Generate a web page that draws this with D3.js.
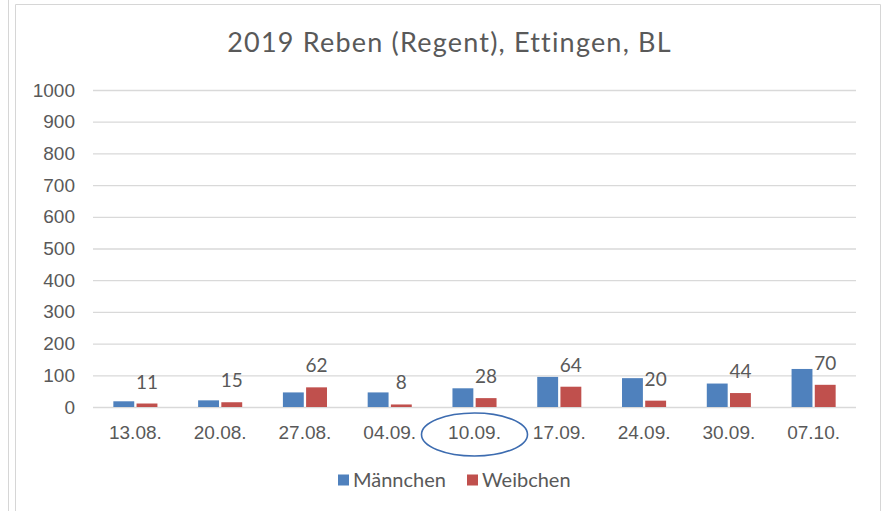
<!DOCTYPE html>
<html lang="de">
<head>
<meta charset="UTF-8">
<title>2019 Reben (Regent), Ettingen, BL</title>
<script src="https://d3js.org/d3.v7.min.js"></script>
<style>
  body { margin: 0; background: #fff; }
  svg { display: block; font-family: Lato, "Open Sans", sans-serif; }
  .lbl { fill: #595959; font-size: 19px; }
</style>
</head>
<body>
<script>
const width = 882;
const height = 511;

// data
const dates = ["13.08.", "20.08.", "27.08.", "04.09.", "10.09.", "17.09.", "24.09.", "30.09.", "07.10."];
const maennchen = [18, 21, 46, 46, 59, 95, 91, 74, 120];
const weibchen = [11, 15, 62, 8, 28, 64, 20, 44, 70];
const seriesNames = ["Männchen", "Weibchen"];
const seriesColors = ["#4f81bd", "#c0504d"];
const yTicks = [0, 100, 200, 300, 400, 500, 600, 700, 800, 900, 1000];
const marked = "10.09.";

const plot = {left: 93, right: 856, top: 90, bottom: 407};

const rows = dates.map((d, i) => ({date: d, values: [maennchen[i], weibchen[i]]}));

const svg = d3.select("body").append("svg")
    .attr("width", width)
    .attr("height", height);

// frame of the cropped screenshot
const frame = svg.append("g").attr("stroke", "#d6d6d6").attr("fill", "none");
frame.append("line").attr("x1", 8.5).attr("x2", 8.5).attr("y1", 0).attr("y2", height);
frame.append("path").attr("d", `M15.5,${height}V4.5H880.5V${height}`);

const x0 = d3.scaleBand()
    .domain(dates)
    .range([plot.left, plot.right])
    .paddingInner(0.48)
    .paddingOuter(0.24);

const x1 = d3.scaleBand()
    .domain(d3.range(seriesNames.length))
    .range([0, x0.bandwidth()])
    .paddingInner(0.1);

const y = d3.scaleLinear()
    .domain([0, 1000])
    .range([plot.bottom, plot.top]);

// title
svg.append("text")
    .attr("x", (plot.left + plot.right) / 2 - 25)
    .attr("y", 52)
    .attr("text-anchor", "middle")
    .attr("fill", "#595959")
    .style("font-size", "27px")
    .style("letter-spacing", "1.2px")
    .text("2019 Reben (Regent), Ettingen, BL");

// y axis with gridlines
const yAxis = d3.axisLeft(y)
    .tickValues(yTicks)
    .tickSize(-(plot.right - plot.left))
    .tickPadding(18)
    .tickFormat(d3.format("d"));

const gy = svg.append("g")
    .attr("transform", `translate(${plot.left},0)`)
    .call(yAxis);
gy.select(".domain").remove();
gy.selectAll(".tick line").attr("stroke", "#d9d9d9").attr("stroke-width", 1.3);
gy.selectAll(".tick text").attr("class", "lbl").attr("fill", "#595959");

// x axis labels
const xAxis = d3.axisBottom(x0).tickSize(0).tickPadding(19);
const gx = svg.append("g")
    .attr("transform", `translate(0,${plot.bottom})`)
    .call(xAxis);
gx.select(".domain").remove();
gx.selectAll(".tick text").attr("class", "lbl").attr("fill", "#595959");

// bars
const groups = svg.append("g")
    .selectAll("g")
    .data(rows)
    .join("g")
    .attr("transform", d => `translate(${x0(d.date)},0)`);

groups.selectAll("rect")
    .data(d => d.values.map((v, i) => ({i, v})))
    .join("rect")
    .attr("x", d => x1(d.i))
    .attr("width", x1.bandwidth())
    .attr("y", d => y(d.v))
    .attr("height", d => y(0) - y(d.v))
    .attr("fill", d => seriesColors[d.i]);

// data labels for Weibchen (sitting a bit above the bars)
groups.append("text")
    .attr("class", "lbl")
    .attr("x", x1(1) + x1.bandwidth() / 2)
    .attr("y", d => y(d.values[1]) - 15)
    .attr("text-anchor", "middle")
    .text(d => d.values[1]);

// hand-drawn ellipse round one date
svg.append("ellipse")
    .attr("cx", x0(marked) + x0.bandwidth() / 2)
    .attr("cy", plot.bottom + 27.5)
    .attr("rx", 53)
    .attr("ry", 21.5)
    .attr("fill", "none")
    .attr("stroke", "#3d6cb0")
    .attr("stroke-width", 1.6);

// legend
const legend = svg.append("g").attr("transform", "translate(338,480)");
const item = legend.selectAll("g")
    .data(seriesNames)
    .join("g")
    .attr("transform", (d, i) => `translate(${i * 129},0)`);
item.append("rect")
    .attr("y", -5.5)
    .attr("width", 11)
    .attr("height", 11)
    .attr("fill", (d, i) => seriesColors[i]);
item.append("text")
    .attr("class", "lbl")
    .attr("x", 15)
    .attr("dy", "0.35em")
    .style("font-size", "20px")
    .text(d => d);
</script>
</body>
</html>
